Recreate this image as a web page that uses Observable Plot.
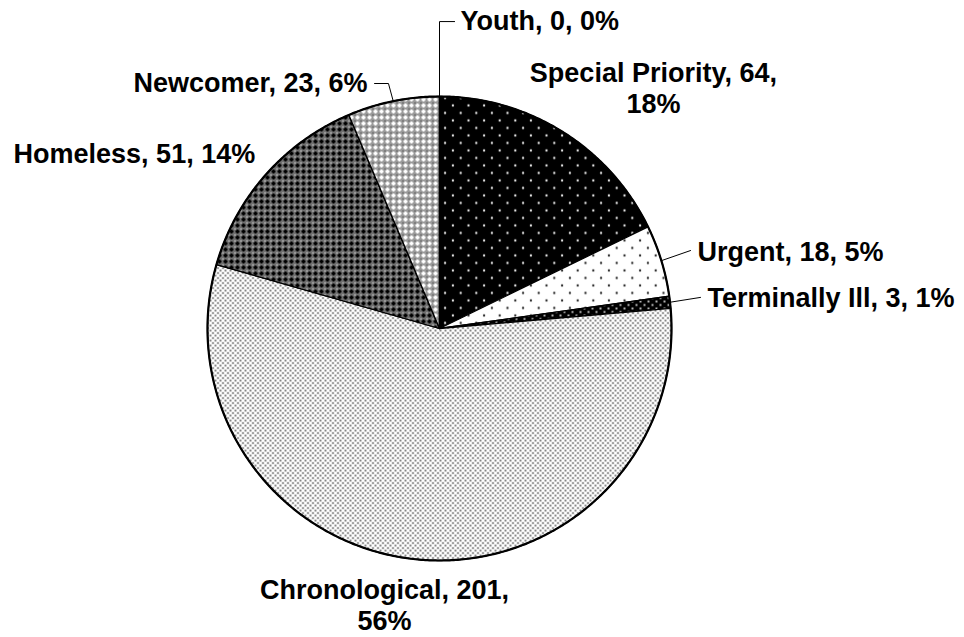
<!DOCTYPE html>
<html>
<head>
<meta charset="utf-8">
<script src="https://cdn.jsdelivr.net/npm/d3@7"></script>
<script src="https://cdn.jsdelivr.net/npm/@observablehq/plot@0.6"></script>
<style>
  html, body { margin: 0; padding: 0; background: #fff; }
  #chart svg { display: block; }
</style>
</head>
<body>
<div id="chart"></div>
<script>
// ---- data ----
const categories = ["Special Priority", "Urgent", "Terminally Ill", "Chronological", "Homeless", "Newcomer", "Youth"];
const counts = [64, 18, 3, 201, 51, 23, 0];
const percents = [18, 5, 1, 56, 14, 6, 0];
const patternIds = ["p-special", "p-urgent", "p-terminal", "p-chrono", "p-homeless", "p-newcomer", "p-youth"];

// ---- layout (radius units, relative to pie centre) ----
const labelX = [0.922, 1.112, 1.155, -0.237, -1.836, -1.319, 0.0905];
const labelY = [1.037, 0.328, 0.129, -1.192, 0.75, 1.056, 1.323];
const labelAnchor = ["middle", "start", "start", "middle", "start", "start", "start"];
const labelWrap = [true, false, false, true, false, false, false];
// leader knee points (null = no leader)
const leaderKnees = [
  null,
  [[1.082, 0.336]],
  [[1.125, 0.134]],
  null,
  null,
  [[-0.22, 1.056], [-0.28, 1.056]],
  [[0, 1.323], [0.065, 1.323]]
];

const W = 964, H = 637, CX = 439, CY = 328, R = 232;

const rows = categories.map((name, i) => ({name, count: counts[i], pct: percents[i], fill: `url(#${patternIds[i]})`}));
const arcs = d3.pie().sort(null).value(d => d.count)(rows);

// slice polygons
const slicePts = [];
arcs.forEach(a => {
  const {name, fill} = a.data;
  slicePts.push({name, fill, x: 0, y: 0});
  const n = Math.max(1, Math.ceil((a.endAngle - a.startAngle) / (Math.PI / 360)));
  for (let i = 0; i <= n; i++) {
    const t = a.startAngle + (a.endAngle - a.startAngle) * i / n;
    slicePts.push({name, fill, x: Math.sin(t), y: Math.cos(t)});
  }
  slicePts.push({name, fill, x: 0, y: 0});
});

// outline
const outline = d3.range(0, 721).map(i => ({x: Math.sin(i * Math.PI / 360), y: Math.cos(i * Math.PI / 360)}));

// labels
const labels = arcs.map((a, i) => ({
  x: labelX[i], y: labelY[i], anchor: labelAnchor[i],
  text: `${a.data.name}, ${a.data.count},${labelWrap[i] ? "\n" : " "}${a.data.pct}%`
}));

// leader lines
const leaderPts = [];
arcs.forEach((a, i) => {
  if (!leaderKnees[i]) return;
  const mid = (a.startAngle + a.endAngle) / 2;
  leaderPts.push({name: a.data.name, x: Math.sin(mid), y: Math.cos(mid)});
  leaderKnees[i].forEach(([x, y]) => leaderPts.push({name: a.data.name, x, y}));
});

const font = "'Liberation Sans', Arial, Helvetica, sans-serif";

const svg = Plot.plot({
  width: W, height: H,
  marginTop: 0, marginRight: 0, marginBottom: 0, marginLeft: 0,
  x: {domain: [-CX / R, (W - CX) / R], range: [0, W], axis: null},
  y: {domain: [-(H - CY) / R, CY / R], range: [H, 0], axis: null},
  color: {type: "identity"},
  style: {fontFamily: font, background: "#fff", overflow: "visible"},
  marks: [
    Plot.line(slicePts, {x: "x", y: "y", z: "name", fill: "fill", stroke: "#000", strokeWidth: 1.3, strokeLinejoin: "round"}),
    Plot.line(outline, {x: "x", y: "y", stroke: "#000", strokeWidth: 2.2}),
    Plot.line(leaderPts, {x: "x", y: "y", z: "name", stroke: "#000", strokeWidth: 1}),
    Plot.text(labels.filter(d => d.anchor === "start"), {x: "x", y: "y", text: "text", textAnchor: "start", fontSize: 27, fontWeight: "bold", fontFamily: font, fill: "#000"}),
    Plot.text(labels.filter(d => d.anchor === "middle"), {x: "x", y: "y", text: "text", textAnchor: "middle", lineHeight: 1.15, fontSize: 27, fontWeight: "bold", fontFamily: font, fill: "#000"})
  ]
});

// ---- fill patterns ----
const defs = d3.select(svg).insert("defs", ":first-child");
function pat(id, w, h, bg) {
  const p = defs.append("pattern").attr("id", id).attr("patternUnits", "userSpaceOnUse")
    .attr("width", w).attr("height", h);
  p.append("rect").attr("width", w).attr("height", h).attr("fill", bg);
  return p;
}
function lattice(p, w, h, r, c) {
  [[0, 0], [w, 0], [0, h], [w, h], [w / 2, h / 2]].forEach(([x, y]) =>
    p.append("circle").attr("cx", x).attr("cy", y).attr("r", r).attr("fill", c));
}
lattice(pat("p-special", 15.6, 15, "#000"), 15.6, 15, 1.15, "#f2f2f2");
lattice(pat("p-urgent", 15.6, 15, "#fff"), 15.6, 15, 1.15, "#222");
lattice(pat("p-terminal", 8, 7, "#000"), 8, 7, 1.0, "#eee");
lattice(pat("p-chrono", 5, 5, "#fff"), 5, 5, 0.85, "#111");
{
  const p = pat("p-homeless", 6, 6, "#707070");
  p.append("rect").attr("x", 2).attr("y", 1).attr("width", 2).attr("height", 4).attr("fill", "#000");
  p.append("rect").attr("x", 1).attr("y", 2).attr("width", 4).attr("height", 2).attr("fill", "#000");
  p.append("rect").attr("x", 0).attr("y", 0).attr("width", 1).attr("height", 1).attr("fill", "#fff");
}
{
  const p = pat("p-newcomer", 6, 6, "#9a9a9a");
  p.append("rect").attr("x", 2).attr("y", 1).attr("width", 2).attr("height", 4).attr("fill", "#fff");
  p.append("rect").attr("x", 1).attr("y", 2).attr("width", 4).attr("height", 2).attr("fill", "#fff");
  p.append("rect").attr("x", 0).attr("y", 0).attr("width", 1).attr("height", 1).attr("fill", "#333");
}
pat("p-youth", 4, 4, "#fff");

document.getElementById("chart").appendChild(svg);
</script>
</body>
</html>
